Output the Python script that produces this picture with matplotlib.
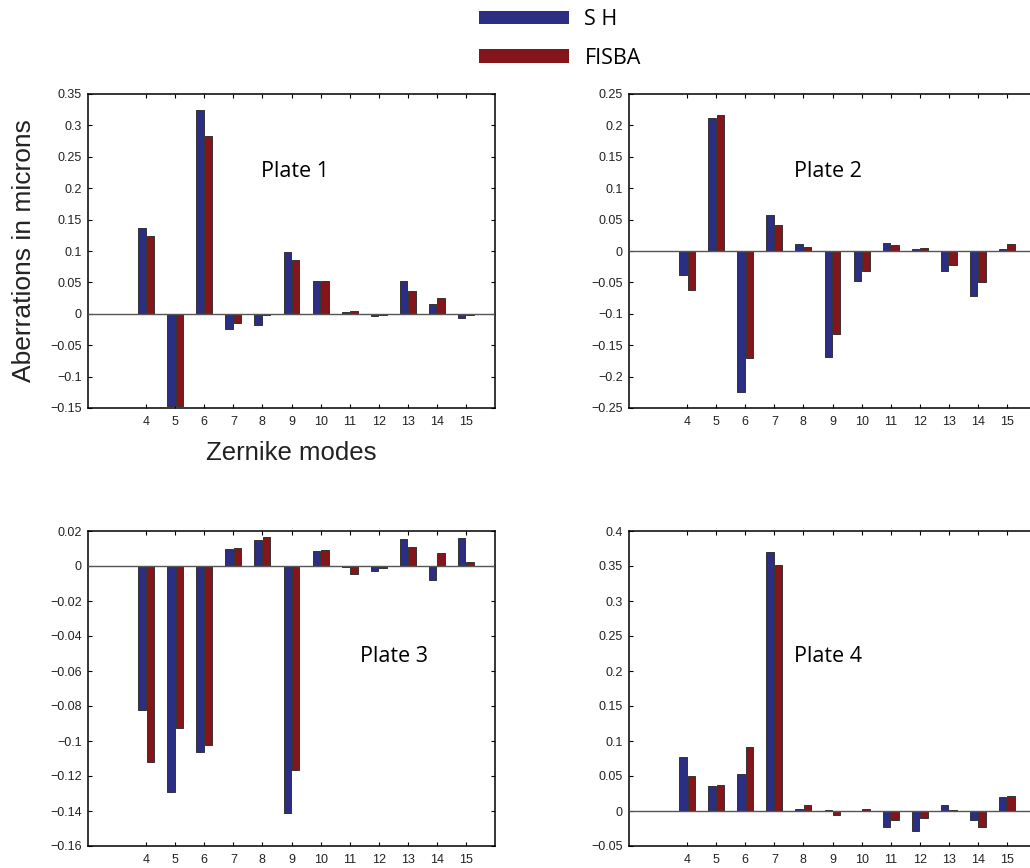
import numpy as np
import matplotlib
matplotlib.use('Agg')
import matplotlib.pyplot as plt

# Zernike modes on the x axis
modes = np.arange(4, 16)

# values (blue = S H, red = FISBA)
plate1_sh = [0.136, -0.147, 0.3245, -0.025, -0.0186, 0.098, 0.053, 0.0027, -0.004, 0.052, 0.016, -0.0074]
plate1_fisba = [0.124, -0.147, 0.2826, -0.0154, -0.002, 0.0854, 0.053, 0.0037, -0.002, 0.037, 0.0244, -0.0015]

plate2_sh = [-0.039, 0.2124, -0.225, 0.058, 0.0109, -0.168, -0.0475, 0.012, 0.0034, -0.032, -0.0713, 0.0034]
plate2_fisba = [-0.0623, 0.216, -0.171, 0.0416, 0.0066, -0.132, -0.032, 0.0093, 0.0045, -0.0215, -0.0496, 0.0109]

plate3_sh = [-0.0821, -0.1293, -0.1064, 0.0095, 0.0149, -0.141, 0.0086, -0.0003, -0.0029, 0.0155, -0.0078, 0.0158]
plate3_fisba = [-0.1121, -0.0924, -0.1023, 0.0105, 0.0164, -0.1165, 0.009, -0.0044, -0.001, 0.0109, 0.0073, 0.0023]

plate4_sh = [0.0767, 0.0362, 0.0524, 0.3694, 0.0024, 0.0014, -0.0005, -0.0229, -0.0281, 0.0086, -0.0133, 0.02]
plate4_fisba = [0.0496, 0.0377, 0.091, 0.3518, 0.009, -0.0052, 0.0033, -0.0129, -0.0105, 0.001, -0.0224, 0.0219]

plate_names = ['Plate 1', 'Plate 2', 'Plate 3', 'Plate 4']
series_names = ['S H', 'FISBA']

blue = '#2B2E83'
red = '#84161B'

W, H = 1030, 868
fig = plt.figure(figsize=(W / 100, H / 100), dpi=100)

def px_axes(x0, x1, y0, y1):
    # axes box from pixel edges (top-left origin)
    return fig.add_axes([x0 / W, (H - y1) / H, (x1 - x0) / W, (y1 - y0) / H])

def fmt(v, p):
    v = round(v, 3)
    if abs(v) < 1e-9:
        return '0'
    return ('%g' % v).replace('-', '\u2212')

panels = [
    (px_axes(88, 495, 94, 408), plate1_sh, plate1_fisba, (-0.15, 0.35), 0.05, (0.509, 0.752)),
    (px_axes(629, 1036, 94, 408), plate2_sh, plate2_fisba, (-0.25, 0.25), 0.05, (0.489, 0.752)),
    (px_axes(88, 495, 531, 846), plate3_sh, plate3_fisba, (-0.16, 0.02), 0.02, (0.752, 0.603)),
    (px_axes(629, 1036, 531, 846), plate4_sh, plate4_fisba, (-0.05, 0.4), 0.05, (0.489, 0.603)),
]

bw = 0.26
off = 0.145
handles = None
for i, (ax, sh, fis, ylim, step, tpos) in enumerate(panels):
    b1 = ax.bar(modes - off, sh, width=bw, color=blue, edgecolor='#333333', linewidth=0.7, zorder=3)
    b2 = ax.bar(modes + off, fis, width=bw, color=red, edgecolor='#333333', linewidth=0.7, zorder=3)
    if handles is None:
        handles = [b1, b2]
    ax.axhline(0, color='#555555', lw=1.0, zorder=4)
    ax.set_xlim(2, 16)
    ax.set_ylim(*ylim)
    ax.set_xticks(modes)
    ax.set_yticks(np.round(np.arange(ylim[0], ylim[1] + step / 2, step), 3))
    ax.yaxis.set_major_formatter(plt.FuncFormatter(fmt))
    ax.tick_params(direction='in', top=True, right=True, length=3, width=0.8,
                   labelsize=9, colors='black')
    ax.tick_params(axis='x', pad=6)
    ax.tick_params(axis='y', pad=4.5)
    for lab in ax.get_xticklabels() + ax.get_yticklabels():
        lab.set_fontfamily('Liberation Sans')
        lab.set_color('#222222')
    for s in ax.spines.values():
        s.set_linewidth(1.1)
    ax.text(tpos[0], tpos[1], plate_names[i], transform=ax.transAxes, ha='center', va='center',
            fontsize=15.5, fontfamily='Open Sans')

ax1 = panels[0][0]
ax1.set_ylabel('Aberrations in microns', fontsize=19, fontfamily='Liberation Sans', color='#222222', labelpad=10)
ax1.set_xlabel('Zernike modes', fontsize=18.5, fontfamily='Liberation Sans', color='#222222', labelpad=9)

leg = fig.legend(handles, series_names, loc='upper left', bbox_to_anchor=(479 / W, 1 - 9 / H),
                 frameon=False, handlelength=4.2, handleheight=0.6, handletextpad=0.7,
                 labelspacing=0.82, borderpad=0, borderaxespad=0,
                 prop={'family': 'Open Sans', 'size': 15.5})
for p in leg.legend_handles:
    p.set_edgecolor('none')

fig.savefig('out.png', dpi=100)
